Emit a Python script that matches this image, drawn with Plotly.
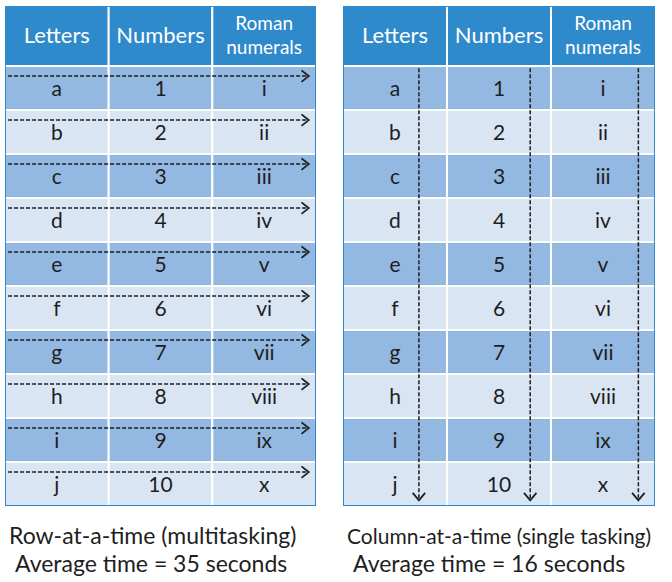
import plotly.graph_objects as go

# ---- data ----
headers = ["Letters", "Numbers", "Roman<br>numerals"]
letters = ["a", "b", "c", "d", "e", "f", "g", "h", "i", "j"]
numbers = ["1", "2", "3", "4", "5", "6", "7", "8", "9", "10"]
romans = ["i", "ii", "iii", "iv", "v", "vi", "vii", "viii", "ix", "x"]
titles = ["Row-at-a-time (multitasking)", "Column-at-a-time (single tasking)"]
avg_times = [35, 16]

# ---- style ----
HEADER_BLUE = "#2F8ACB"
DARK_ROW = "#93B8E1"
LIGHT_ROW = "#DAE5F3"
INK = "#1e1e1e"
FONT = "Lato"
W, H = 672, 582
HEADER_H = 60 / 44  # header height in row units

columns = [letters, numbers, romans]
n_rows = len(letters)
n_cols = len(columns)

fig = go.Figure()
shapes = []
annotations = []

table_domains = [(5, 316), (343, 655)]
y_top, y_bot = 6, 506
caption_y = [535, 563]
title_sizes = [23, 21]

for t, (xl, xr) in enumerate(table_domains):
    sfx = "" if t == 0 else str(t + 1)
    xa, ya = "x" + sfx, "y" + sfx
    fig.layout["xaxis" + sfx] = dict(domain=[xl / W, xr / W], range=[0, n_cols],
                                     visible=False, fixedrange=True, anchor=ya)
    fig.layout["yaxis" + sfx] = dict(domain=[1 - y_bot / H, 1 - y_top / H],
                                     range=[n_rows, -HEADER_H], visible=False,
                                     fixedrange=True, anchor=xa)
    # header cells
    for c in range(n_cols):
        shapes.append(dict(type="rect", xref=xa, yref=ya, x0=c, x1=c + 1,
                           y0=-HEADER_H, y1=0, fillcolor=HEADER_BLUE,
                           line=dict(color="white", width=2), layer="below"))
    # body cells
    for r in range(n_rows):
        fill = DARK_ROW if r % 2 == 0 else LIGHT_ROW
        for c in range(n_cols):
            shapes.append(dict(type="rect", xref=xa, yref=ya, x0=c, x1=c + 1,
                               y0=r, y1=r + 1, fillcolor=fill,
                               line=dict(color="white", width=2), layer="below"))
    # outer border
    shapes.append(dict(type="rect", xref=xa, yref=ya, x0=0, x1=n_cols,
                       y0=-HEADER_H, y1=n_rows, line=dict(color=HEADER_BLUE, width=2)))

    # header text
    for c, h in enumerate(headers):
        fig.add_trace(go.Scatter(x=[c + 0.5], y=[-HEADER_H / 2 + 0.03], mode="text", text=[h],
                                 textfont=dict(family=FONT, size=22 if "<br>" not in h else 19,
                                               color="white"),
                                 xaxis=xa, yaxis=ya, hoverinfo="skip", showlegend=False))
    # cell text
    for c, col in enumerate(columns):
        fig.add_trace(go.Scatter(x=[c + 0.5] * n_rows, y=[r + 0.57 for r in range(n_rows)],
                                 mode="text", text=col,
                                 textfont=dict(family=FONT, size=21, color=INK),
                                 xaxis=xa, yaxis=ya, hoverinfo="skip", showlegend=False))

    if t == 0:
        # horizontal dashed arrows, one per row
        for r in range(n_rows):
            yy = r + 0.23
            fig.add_trace(go.Scatter(x=[0.03, 2.92], y=[yy, yy], mode="lines",
                                     line=dict(color=INK, width=1.5, dash="4px,2px"),
                                     xaxis=xa, yaxis=ya, hoverinfo="skip", showlegend=False))
            fig.add_trace(go.Scatter(x=[2.86, 2.93, 2.86], y=[yy - 0.13, yy, yy + 0.13],
                                     mode="lines", line=dict(color=INK, width=1.8),
                                     xaxis=xa, yaxis=ya, hoverinfo="skip", showlegend=False))
    else:
        # vertical dashed arrows, one per column
        for c, off in zip(range(n_cols), [0.73, 0.80, 0.84]):
            xx = c + off
            fig.add_trace(go.Scatter(x=[xx, xx], y=[0.05, n_rows - 0.15], mode="lines",
                                     line=dict(color=INK, width=1.5, dash="4px,2px"),
                                     xaxis=xa, yaxis=ya, hoverinfo="skip", showlegend=False))
            fig.add_trace(go.Scatter(x=[xx - 0.06, xx, xx + 0.06],
                                     y=[n_rows - 0.3, n_rows - 0.13, n_rows - 0.3],
                                     mode="lines", line=dict(color=INK, width=1.8),
                                     xaxis=xa, yaxis=ya, hoverinfo="skip", showlegend=False))

    # captions
    annotations.append(dict(xref=xa, yref="paper", x=0.02, y=1 - caption_y[0] / H,
                            xanchor="left", yanchor="middle", text=titles[t],
                            showarrow=False,
                            font=dict(family=FONT, size=title_sizes[t], color=INK)))
    annotations.append(dict(xref=xa, yref="paper", x=0.08, y=1 - caption_y[1] / H,
                            xanchor="left", yanchor="middle",
                            text=f"Average time = {avg_times[t]} seconds",
                            showarrow=False, font=dict(family=FONT, size=23, color=INK)))

fig.update_layout(width=W, height=H, margin=dict(l=0, r=0, t=0, b=0),
                  paper_bgcolor="white", plot_bgcolor="rgba(0,0,0,0)",
                  shapes=shapes, annotations=annotations, showlegend=False)

fig.write_html("out.html", config={"displayModeBar": False},
               post_script="document.body.style.margin='0';document.body.style.overflow='hidden';")
